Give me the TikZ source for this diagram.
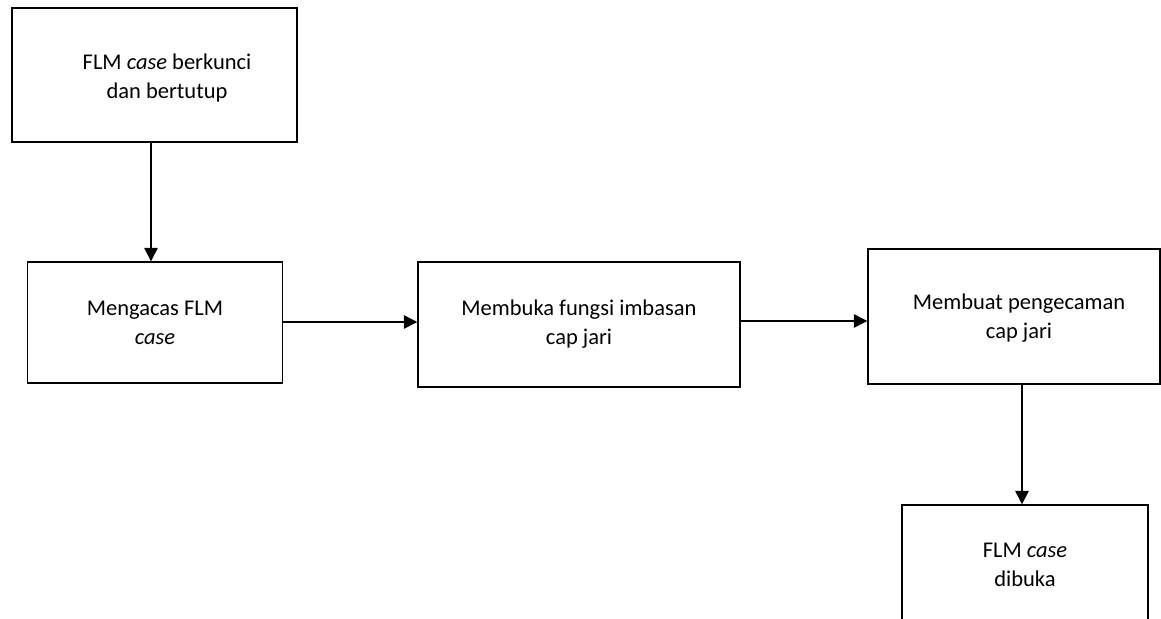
\documentclass[tikz,border=0pt]{standalone}
\usepackage{fontspec}
\setmainfont{Carlito}
\usepackage{tikz}
\usetikzlibrary{arrows,arrows.meta,positioning}
\tikzset{
  langkah/.style={draw, line width=1pt, align=center, inner sep=0pt,
    font=\fontsize{16}{20.5}\selectfont},
  aliran/.style={line width=1pt, -{Triangle[length=9.5pt,width=9.5pt]}}
}

\begin{document}
\begin{tikzpicture}[x=0.025cm, y=-0.025cm]
\useasboundingbox (0,0) rectangle (1161,618);
% kotak
\node[langkah, minimum width=7.125cm, minimum height=3.35cm] (kunci) at (154.5,75) {};
\node[font=\fontsize{16}{20.5}\selectfont, align=center] (kuncit) at (167,78) {FLM \textit{case} berkunci\\dan bertutup};
\node[langkah, minimum width=6.375cm, minimum height=3.025cm] (cas) at (155,322.5) {Mengacas FLM\\\textit{case}};
\node[langkah, minimum width=8.05cm, minimum height=3.125cm] (imbas) at (579,324.5) {Membuka fungsi imbasan\\cap jari};
\node[langkah, minimum width=7.3cm, minimum height=3.375cm] (kenal) at (1014,316.5) {};
\node[font=\fontsize{16}{20.5}\selectfont, align=center] (kenalt) at (1019,318) {Membuat pengecaman\\cap jari};
\node[langkah, minimum width=6.15cm, minimum height=3cm] (buka) at (1025,565) {FLM \textit{case}\\dibuka};
% anak panah
\draw[aliran] (kunci.south -| 151,0) -- (cas.north -| 151,0);
\draw[aliran] (cas.east |- 0,322) -- (imbas.west |- 0,322);
\draw[aliran] (imbas.east |- 0,321) -- (kenal.west |- 0,321);
\draw[aliran] (kenal.south -| 1022,0) -- (buka.north -| 1022,0);
\end{tikzpicture}
\end{document}
